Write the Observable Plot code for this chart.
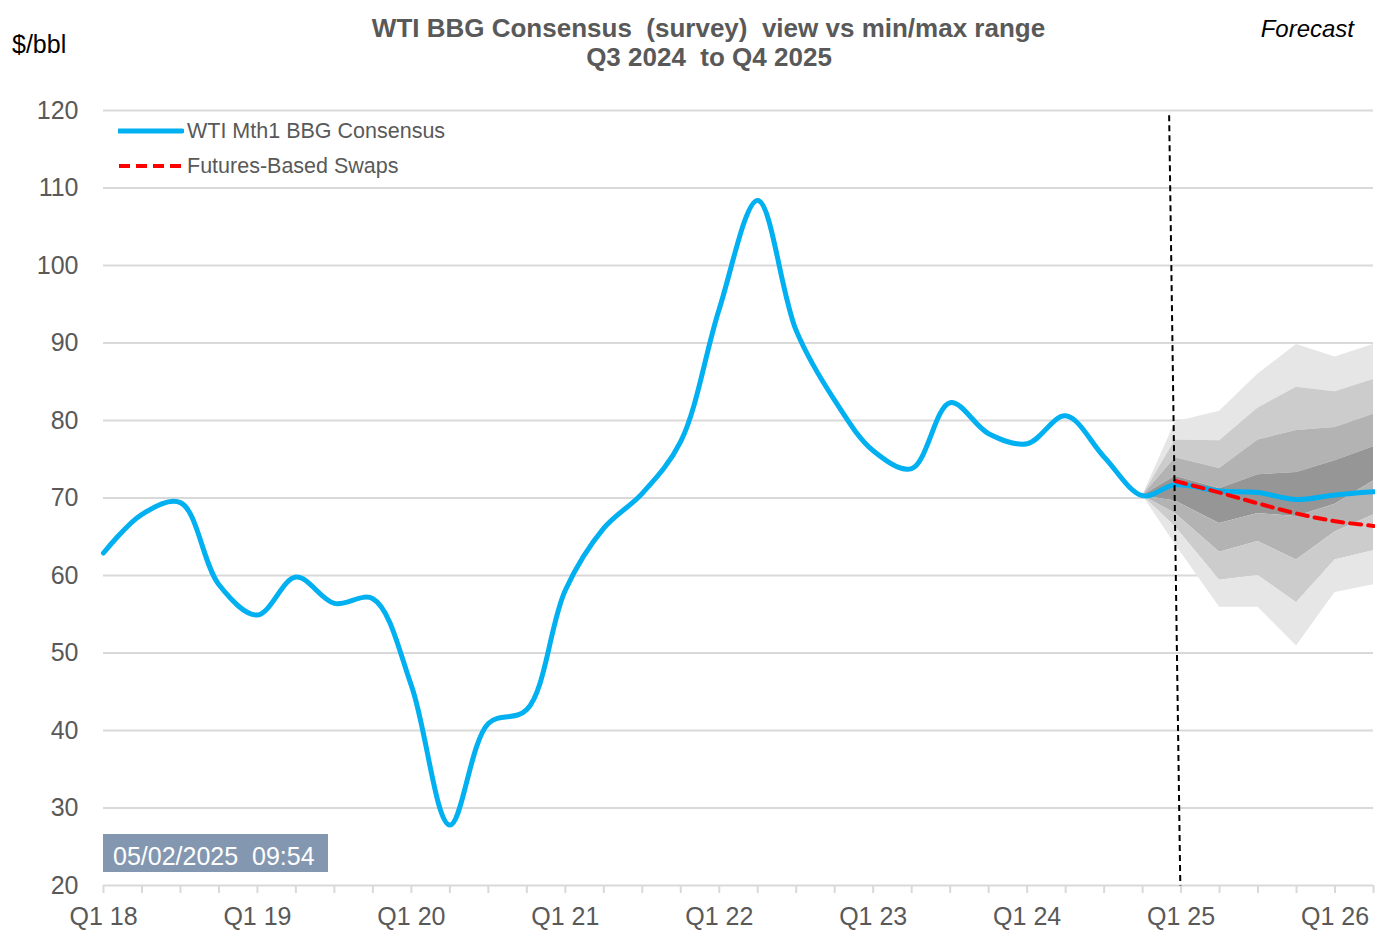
<!DOCTYPE html>
<html><head><meta charset="utf-8">
<script src="https://cdn.jsdelivr.net/npm/d3@7"></script>
<script src="https://cdn.jsdelivr.net/npm/@observablehq/plot@0.6"></script>
<style>
body{margin:0;background:#fff;font-family:"Liberation Sans",Arial,sans-serif;}
#wrap{position:relative;width:1375px;height:932px;overflow:hidden;}
#wrap > svg{position:absolute;left:0;top:0;}
.t{position:absolute;white-space:pre;line-height:1;}
</style></head><body><div id="wrap"></div>
<script>
// ---- categories ----
const quarterLabels = ["Q1 18","Q2 18","Q3 18","Q4 18","Q1 19","Q2 19","Q3 19","Q4 19",
  "Q1 20","Q2 20","Q3 20","Q4 20","Q1 21","Q2 21","Q3 21","Q4 21",
  "Q1 22","Q2 22","Q3 22","Q4 22","Q1 23","Q2 23","Q3 23","Q4 23",
  "Q1 24","Q2 24","Q3 24","Q4 24","Q1 25","Q2 25","Q3 25","Q4 25","Q1 26","Q2 26"];
const labelledQuarters = ["Q1 18","Q1 19","Q1 20","Q1 21","Q1 22","Q1 23","Q1 24","Q1 25","Q1 26"];
const yTicks = [20,30,40,50,60,70,80,90,100,110,120];

// ---- history: WTI Mth1 quarterly average ($/bbl), Q1 18 .. Q4 24 ----
const wtiHistory = [62.9,67.9,69.4,58.8, 54.9,59.8,56.4,57.0, 45.8,27.8,40.9,42.7,
  58.1,66.1,70.6,77.3, 94.4,108.4,91.6,82.6, 76.1,73.8,82.3,78.3, 77.0,80.6,75.3,70.3];

// ---- forecast (positions in quarter-index units on the axis) ----
const forecastPos = [27.85, 29, 30, 31, 32, 33];
const consensusForecast = [71.7, 70.9, 70.7, 69.8, 70.4, 70.8];
const swapsForecast = [72.2, 70.7, 69.3, 68.0, 67.0, 66.4];

// ---- fan: min/max range percentiles (start at last actual) ----
const fanPos = [27, 27.85, 29, 30, 31, 32, 33];
const fanMax = [70.3, 79.8, 81.2, 86.0, 89.8, 88.2, 89.8];
const fanP1  = [70.3, 77.5, 77.4, 81.6, 84.3, 83.7, 85.3];
const fanP2  = [70.3, 75.2, 73.8, 77.5, 78.7, 79.1, 80.8];
const fanP3  = [70.3, 72.8, 71.2, 73.0, 73.3, 74.8, 76.6];
const fanP4  = [70.3, 69.6, 66.7, 68.0, 67.6, 69.2, 72.2];
const fanP5  = [70.3, 68.0, 63.0, 64.4, 62.0, 65.6, 67.8];
const fanP6  = [70.3, 66.3, 59.4, 60.0, 56.5, 62.0, 63.2];
const fanMin = [70.3, 64.0, 55.9, 55.9, 50.9, 57.8, 58.8];
const fanColors = ["#e6e6e6","#cccccc","#b3b3b3","#969696","#b3b3b3","#cccccc","#e6e6e6"];

// forecast divider (dashed line) endpoints
const dividerX = [27.69, 27.98];
const dividerY = [119.4, 20];

// ---- build tables ----
const qIndex = (q) => quarterLabels.indexOf(q);
const consensus = wtiHistory.map((v, i) => ({x: i, y: v}))
  .concat(forecastPos.map((p, i) => ({x: p, y: consensusForecast[i]})));
const swaps = forecastPos.map((p, i) => ({x: p, y: swapsForecast[i]}));
const bounds = [fanMax, fanP1, fanP2, fanP3, fanP4, fanP5, fanP6, fanMin];
const bands = [];
for (let b = 0; b < bounds.length - 1; b++) {
  fanPos.forEach((p, i) => bands.push({band: b, x: p, hi: bounds[b][i], lo: bounds[b+1][i]}));
}
const divider = [{x1: dividerX[0], y1: dividerY[0], x2: dividerX[1], y2: dividerY[1]}];

const chart = Plot.plot({
  width: 1375, height: 932,
  marginLeft: 103, marginRight: 2, marginTop: 110, marginBottom: 47,
  style: {fontFamily: "'Liberation Sans', Arial, sans-serif", background: "transparent"},
  x: {domain: [0, quarterLabels.length - 1], label: null},
  y: {domain: [20, 120], label: null},
  marks: [
    Plot.ruleY(yTicks, {stroke: "#d9d9d9", strokeWidth: 2}),
    Plot.axisX({ticks: quarterLabels.map((q, i) => i), tickSize: 8, stroke: "#d9d9d9", strokeWidth: 2, tickFormat: () => "", label: null}),
    Plot.axisX({ticks: labelledQuarters.map(qIndex), tickSize: 0, tickPadding: 22, tickFormat: (d) => quarterLabels[d],
      fill: "#595959", fontSize: 25, label: null}),
    Plot.axisY({ticks: yTicks, tickSize: 0, tickPadding: 25, fill: "#595959", fontSize: 25, label: null}),
    Plot.areaY(bands, {x: "x", y1: "lo", y2: "hi", z: "band", fill: (d) => fanColors[d.band], curve: "linear"}),
    Plot.line(consensus, {x: "x", y: "y", stroke: "#00b0f0", strokeWidth: 5, curve: "catmull-rom"}),
    Plot.line(swaps, {x: "x", y: "y", stroke: "#ff0000", strokeWidth: 4, strokeDasharray: "11,7", curve: "catmull-rom"}),
    Plot.link(divider, {x1: "x1", y1: "y1", x2: "x2", y2: "y2", stroke: "#000", strokeWidth: 2, strokeDasharray: "6,4"})
  ]
});
const wrap = document.getElementById("wrap");
wrap.appendChild(chart);

function addText(txt, css) {
  const d = document.createElement("div");
  d.className = "t"; d.textContent = txt;
  Object.assign(d.style, css);
  wrap.appendChild(d);
  return d;
}
addText("$/bbl", {left: "12px", top: "32px", fontSize: "25px", color: "#000"});
addText("WTI BBG Consensus  (survey)  view vs min/max range", {left: "0", width: "1417px", textAlign: "center", top: "15px", fontSize: "26px", fontWeight: "bold", color: "#595959"});
addText("Q3 2024  to Q4 2025", {left: "0", width: "1418px", textAlign: "center", top: "44px", fontSize: "26px", fontWeight: "bold", color: "#595959"});
addText("Forecast", {right: "21px", top: "17px", fontSize: "24px", fontStyle: "italic", color: "#000"});

// legend
const legendItems = [
  {label: "WTI Mth1 BBG Consensus", color: "#00b0f0", dash: null, w: 5, top: 121},
  {label: "Futures-Based Swaps", color: "#ff0000", dash: "11,6", w: 4, top: 156}
];
legendItems.forEach(it => {
  const ns = "http://www.w3.org/2000/svg";
  const s = document.createElementNS(ns, "svg");
  s.setAttribute("width", 66); s.setAttribute("height", 10);
  s.style.position = "absolute"; s.style.left = "118px"; s.style.top = (it.top + 5) + "px";
  const l = document.createElementNS(ns, "line");
  l.setAttribute("x1", 1); l.setAttribute("x2", 64); l.setAttribute("y1", 5); l.setAttribute("y2", 5);
  l.setAttribute("stroke", it.color); l.setAttribute("stroke-width", it.w);
  if (it.dash) l.setAttribute("stroke-dasharray", it.dash); else l.setAttribute("stroke-linecap", "round");
  s.appendChild(l); wrap.appendChild(s);
  addText(it.label, {left: "187px", top: it.top + "px", fontSize: "21.5px", color: "#595959"});
});

// timestamp box
addText("05/02/2025  09:54", {left: "103px", top: "834px", width: "215px", height: "38px", paddingLeft: "10px",
  background: "#8497b0", color: "#fff", fontSize: "25px", lineHeight: "44px"});
</script></body></html>
